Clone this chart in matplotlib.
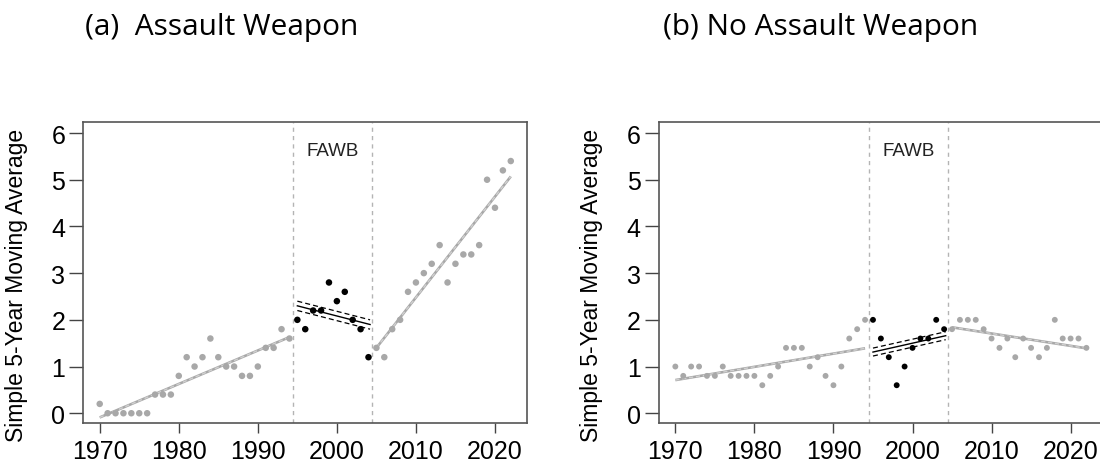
import numpy as np
import matplotlib
matplotlib.use("Agg")
import matplotlib.pyplot as plt

plt.rcParams['font.family'] = ['Liberation Sans', 'DejaVu Sans']

years = np.arange(1970, 2023)

# 5-year moving averages
aw_vals = [0.2, 0, 0, 0, 0, 0, 0, 0.4, 0.4, 0.4,
           0.8, 1.2, 1.0, 1.2, 1.6, 1.2, 1.0, 1.0, 0.8, 0.8,
           1.0, 1.4, 1.4, 1.8, 1.6,
           2.0, 1.8, 2.2, 2.2, 2.8, 2.4, 2.6, 2.0, 1.8, 1.2,
           1.4, 1.2, 1.8, 2.0, 2.6, 2.8, 3.0, 3.2, 3.6, 2.8,
           3.2, 3.4, 3.4, 3.6, 5.0, 4.4, 5.2, 5.4]
naw_vals = [1.0, 0.8, 1.0, 1.0, 0.8, 0.8, 1.0, 0.8, 0.8, 0.8,
            0.8, 0.6, 0.8, 1.0, 1.4, 1.4, 1.4, 1.0, 1.2, 0.8,
            0.6, 1.0, 1.6, 1.8, 2.0,
            2.0, 1.6, 1.2, 0.6, 1.0, 1.4, 1.6, 1.6, 2.0, 1.8,
            1.8, 2.0, 2.0, 2.0, 1.8, 1.6, 1.4, 1.6, 1.2, 1.6,
            1.4, 1.2, 1.4, 2.0, 1.6, 1.6, 1.6, 1.4]

ban_start, ban_end = 1995, 2004

# segmented trend lines (start year, end year, start value, end value)
aw_pre = [1970, 1994, -0.09, 1.63]
aw_ban = [1995, 2004.2, 2.30, 1.90]
aw_post = [2005, 2022, 1.40, 5.07]
aw_ci = 0.10
naw_pre = [1970, 1994, 0.71, 1.39]
naw_ban = [1995, 2004.2, 1.31, 1.66]
naw_post = [2005, 2022, 1.84, 1.39]
naw_ci = 0.085

GREY = '#a8a8a8'


def trend(ax, seg, color, ci=None):
    x = [seg[0], seg[1]]
    y = np.array([seg[2], seg[3]])
    if ci is None:
        ax.plot(x, y, color=color, lw=1.9, solid_capstyle='butt', zorder=2)
        ax.plot(x, y, color='#d0d0d0', lw=1.0, ls=(0, (3, 2)), zorder=2)
    else:
        ax.plot(x, y, color=color, lw=1.0, zorder=2)
        ax.plot(x, y + ci, color=color, lw=0.9, ls=(0, (4, 2.5)), zorder=2)
        ax.plot(x, y - ci, color=color, lw=0.9, ls=(0, (4, 2.5)), zorder=2)


def panel(ax, vals, pre, ban, post, ci, msize):
    vals = np.array(vals)
    in_ban = (years >= ban_start) & (years <= ban_end)
    ax.scatter(years[~in_ban], vals[~in_ban], s=msize, color=GREY,
               edgecolors='none', zorder=3)
    ax.scatter(years[in_ban], vals[in_ban], s=msize, color='black',
               edgecolors='none', zorder=3)
    trend(ax, pre, GREY)
    trend(ax, post, GREY)
    trend(ax, ban, 'black', ci)
    for xv in (ban_start - 0.5, ban_end + 0.5):
        ax.axvline(xv, color='#b4b4b4', lw=1.0, ls=(0, (3, 3)), zorder=1)
    ax.text(1999.5, 5.63, 'FAWB', ha='center', va='center', fontsize=13.5,
            color='#222222')
    ax.set_xlim(1967.92, 2024.08)
    ax.set_ylim(-0.215, 6.23)
    ax.set_xticks([1970, 1980, 1990, 2000, 2010, 2020])
    ax.set_yticks(range(7))
    ax.tick_params(labelsize=18, length=7.5, width=1.0, color='#444444',
                   direction='out', pad=4)
    ax.tick_params(axis='y', length=10, pad=3)
    for s in ax.spines.values():
        s.set_color('#555555')
        s.set_linewidth(1.2)
    ax.set_ylabel('Simple 5-Year Moving Average', fontsize=16.5)
    ax.yaxis.set_label_coords(-0.125, 0.46)


fig = plt.figure(figsize=(11, 4.64), dpi=100)
ax1 = fig.add_axes([0.0757, 0.0856, 0.4036, 0.6487])
ax2 = fig.add_axes([0.599, 0.0856, 0.4036, 0.6487])

panel(ax1, aw_vals, aw_pre, aw_ban, aw_post, aw_ci, 22)
panel(ax2, naw_vals, naw_pre, naw_ban, naw_post, naw_ci, 18)

fig.text(0.077, 0.94, '(a)  Assault Weapon', fontsize=21.5,
         family=['Open Sans', 'DejaVu Sans'], va='center', ha='left')
fig.text(0.603, 0.94, '(b) No Assault Weapon', fontsize=21.5,
         family=['Open Sans', 'DejaVu Sans'], va='center', ha='left')

fig.savefig('out.png', dpi=100)
